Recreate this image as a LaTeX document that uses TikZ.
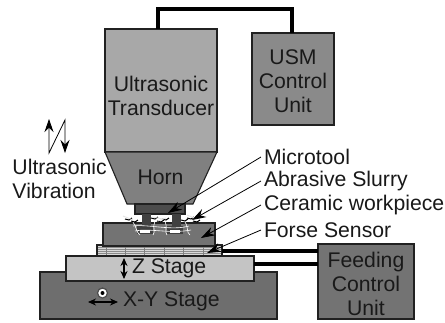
\documentclass[tikz,border=0pt]{standalone}
\usepackage{fontspec}
\setmainfont{Liberation Sans}
\usetikzlibrary{arrows.meta,calc}
\definecolor{edgec}{gray}{0.13}
\tikzset{
  part/.style={draw=edgec,line width=1.1pt},
  box/.style={part,inner sep=0pt,outer sep=0pt},
  lbl/.style={inner sep=0pt,outer sep=0pt,align=center,text=black!90,font=\fontsize{21.2}{24}\selectfont},
  cable/.style={line width=4.6pt,line join=miter,draw=black},
  leader/.style={line width=0.8pt,-{Stealth[length=14pt,width=9pt]}},
  thinarrow/.style={line width=1.1pt,{Stealth[length=8pt,width=7pt]}-{Stealth[length=8pt,width=7pt]}},
  swirl/.style={draw=white,line width=0.6pt},
  slurry/.style={draw=black,line width=1pt},
}
\begin{document}
\begin{tikzpicture}[x=1pt,y=-1pt]
\useasboundingbox (0,0) rectangle (445,322);
\fill[white] (0,0) rectangle (445,322);

% boxes
\node[box,fill=black!34,minimum width=112pt,minimum height=123pt] (trans) at (161,90.5) {};
\node[lbl] (transt) at (161,95.5) {Ultrasonic\\Transducer};
\node[box,fill=black!46,minimum width=82pt,minimum height=92pt] (usm) at (293,79) {};
\node[lbl] (usmt) at (293,81) {USM\\Control\\Unit};
\node[box,fill=black!55,minimum width=96pt,minimum height=75pt] (feed) at (366,281.5) {};
\node[lbl] (feedt) at (366,283.5) {Feeding\\Control\\Unit};

% cables
\coordinate (c1) at ($(trans.north west)+(53,0)$);
\coordinate (c2) at ($(usm.north west)+(40,0)$);
\coordinate (ctop) at ($(c1)+(0,-20)$);
\draw[cable] (c1) -- (ctop) -| (c2);

% stages
\node[box,fill=black!57,minimum width=237pt,minimum height=47pt] (xy) at (158.5,295.5) {};
\node[box,fill=black!23,minimum width=188pt,minimum height=25pt] (z) at (160,268.5) {};
\node[box,fill=black!15,minimum width=125pt,minimum height=11pt] (sensor) at (159.5,250.5) {};
\foreach \yy in {247.5,249.5,251.5,253.5}
  \draw[black!45,line width=0.4pt] (97.5,\yy) -- (221.5,\yy);
\foreach \xx in {106,125,144,164,183,203}
  \draw[black!50,line width=0.5pt] (\xx,245.5) -- (\xx,255.5);
\draw[part] (sensor.south west) rectangle (sensor.north east);
\draw[cable] (sensor.east |- 0,251) -- (feed.west |- 0,251);
\draw[cable] (z.east |- 0,264) -- (feed.west |- 0,264);

% stage labels
\node[lbl,anchor=west] (zt) at (132,268) {Z Stage};
\node[lbl,anchor=west] (xyt) at (123,301) {X-Y Stage};
\coordinate (za) at (124,258);
\coordinate (zb) at (124,279);
\draw[thinarrow] (za) -- (zb);
\coordinate (xa) at (88,302);
\coordinate (xb) at (118,302);
\draw[thinarrow] (xa) -- (xb);
\node[circle,draw=black!70,fill=white,line width=1.2pt,minimum size=10pt,inner sep=0pt] (yc) at (102.5,293) {};
\fill[black] (yc) circle (2pt);

% workpiece
\node[box,fill=black!55,minimum width=112pt,minimum height=23pt] (work) at (159,234.5) {};

% horn
\draw[part,fill=black!50] (105,152) -- (217,152) -- (193,204) -- (127,204) -- cycle;
\node[lbl] (horn) at (160.5,177.5) {Horn};

% tool holder and tools
\draw[part,fill=black!70] (135,204) rectangle (185,214);
\foreach \xl in {137,167}{
  \fill[black!75] (\xl,225.5) rectangle ++(16,8.5);
  \fill[white] (\xl+3,229.5) rectangle ++(10,3);
  \fill[black!75] (\xl+5,214) rectangle ++(9,15);
}
% slurry
\foreach \sx/\sy in {128/219,134/221,154/218,160/221,165/219,190/218,196/221,184/220}{
  \draw[slurry] (\sx-3,\sy) -- (\sx+1,\sy+1) -- (\sx+4,\sy-1);
}
\foreach \ax/\ay/\bx/\by in {123/216/133/220,152/217/163/219,187/215/197/219,158/221/166/218}{
  \draw[draw=black!10,line width=0.9pt] (\ax,\ay) -- (\bx,\by);
}
% vibration lines in the slurry
\draw[swirl] (133,226) .. controls (148,224) and (172,231) .. (189,226);
\draw[swirl] (135,231) .. controls (150,228) and (170,234) .. (191,230);
\draw[swirl] (133,222) .. controls (137,228) and (136,232) .. (140,235);
\draw[swirl] (185,222) .. controls (189,228) and (186,232) .. (190,235);
\draw[swirl] (155,221) .. controls (152,227) and (156,232) .. (153,235);
\draw[swirl] (165,221) .. controls (168,227) and (164,232) .. (167,235);

% leaders
\node[lbl,anchor=west] (micro) at (264,157) {Microtool};
\node[lbl,anchor=west] (abr) at (264,181) {Abrasive Slurry};
\node[lbl,anchor=west] (cer) at (264,205) {Ceramic workpiece};
\node[lbl,anchor=west] (fs) at (264,230) {Forse Sensor};
\coordinate (tm) at (168,213);
\coordinate (ta) at (192,220);
\coordinate (tc) at (201,238);
\coordinate (tf) at (207,253);
\draw[leader] (micro.west) ++(-3,0) -- (tm);
\draw[leader] (abr.west) ++(-3,0) -- (ta);
\draw[leader] (cer.west) ++(-3,0) -- (tc);
\draw[leader] (fs.west) ++(-3,0) -- (tf);

% vibration symbol
\node[lbl,anchor=west,align=left] (vib) at (12.5,179) {Ultrasonic\\Vibration};
\coordinate (v1) at (49,119);
\coordinate (v2) at (49,153);
\coordinate (v3) at (65,120);
\coordinate (v4) at (65,153);
\draw[line width=0.8pt,{Stealth[length=13pt,width=9pt]}-{Stealth[length=13pt,width=9pt]},line join=miter] (v1) -- (v2) -- (v3) -- (v4);
\end{tikzpicture}
\end{document}
